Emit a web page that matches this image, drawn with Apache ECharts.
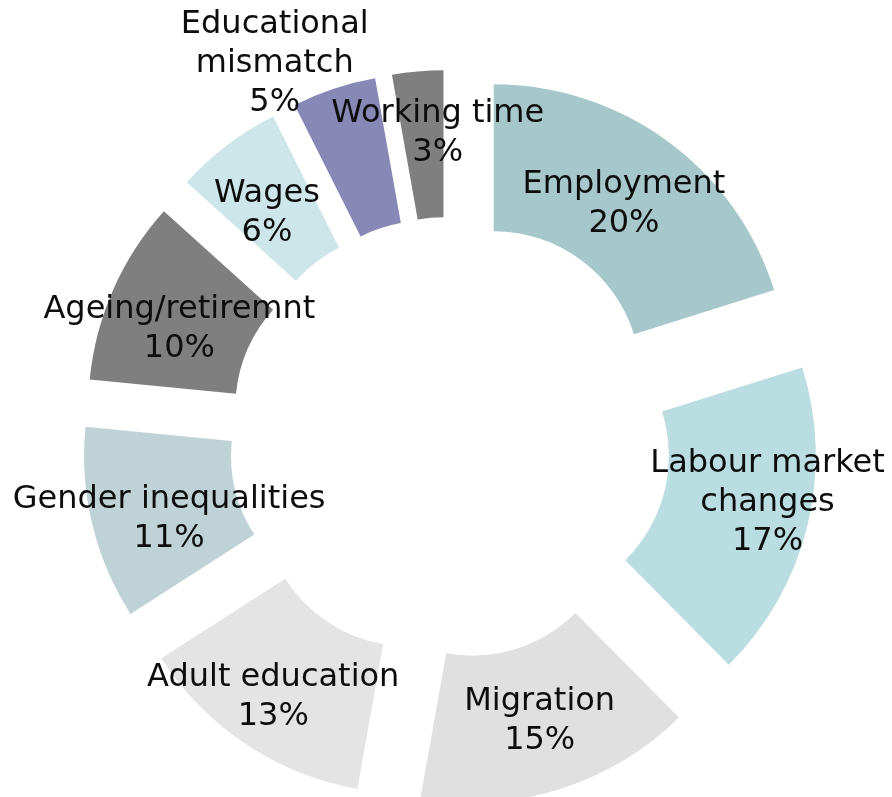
<!DOCTYPE html>
<html>
<head>
<meta charset="utf-8">
<script src="https://cdn.jsdelivr.net/npm/echarts@6/dist/echarts.min.js"></script>
<style>
  html, body { margin: 0; padding: 0; background: #ffffff; }
  #chart { width: 892px; height: 797px; }
</style>
</head>
<body>
<div id="chart"></div>
<script>
// ---- Data ----
const categories = [
  'Employment',
  'Labour market\nchanges',
  'Migration',
  'Adult education',
  'Gender inequalities',
  'Ageing/retiremnt',
  'Wages',
  'Educational\nmismatch',
  'Working time'
];
const shares = [20.1, 17.4, 15.2, 13.1, 10.6, 10.1, 5.9, 4.6, 2.8];

// ---- Styles ----
const colors = ['#a6c8cb', '#b9dde1', '#e0e0e0', '#e4e4e4', '#bfd3d6', '#7f7f7f', '#cde6ea', '#8888b6', '#7f7f7f'];
// label nudges [dx, dy] in px (applied through invisible padding)
const labelNudges = [[-10, -5], [47, -13], [-10, 13], [1, 13], [0, -1], [-2, 27], [4, 15], [-73, -94], [20, -12]];

function nudgePadding(n) {
  const dx = n[0], dy = n[1];
  return [dy > 0 ? 2 * dy : 0, dx < 0 ? -2 * dx : 0, dy < 0 ? -2 * dy : 0, dx > 0 ? 2 * dx : 0];
}

const labelBase = {
  show: true,
  position: 'inside',
  formatter: '{b}\n{d}%',
  color: '#0d0d0d',
  fontFamily: 'DejaVu Sans',
  fontSize: 32,
  lineHeight: 39,
  textBorderWidth: 0,
  textShadowBlur: 0,
  rich: { t: { color: '#0d0d0d' } }
};

const pieData = categories.map((name, i) => {
  const lab = Object.assign({}, labelBase, { padding: nudgePadding(labelNudges[i]) });
  return {
    name: name,
    value: shares[i],
    selected: true,
    itemStyle: { color: colors[i] },
    label: lab,
    select: { itemStyle: { color: colors[i], borderWidth: 0 }, label: lab },
    emphasis: { itemStyle: { color: colors[i] }, label: lab }
  };
});

const chart = echarts.init(document.getElementById('chart'), null, { renderer: 'canvas' });
chart.setOption({
  animation: false,
  backgroundColor: '#ffffff',
  series: [{
    type: 'pie',
    center: [450, 438],
    radius: [147, 294],
    startAngle: 90,
    clockwise: true,
    percentPrecision: 0,
    selectedMode: 'multiple',
    selectedOffset: 74,
    avoidLabelOverlap: false,
    labelLayout: { hideOverlap: false },
    labelLine: { show: false },
    itemStyle: { borderWidth: 0 },
    emphasis: { scale: false },
    data: pieData
  }]
});
</script>
</body>
</html>
